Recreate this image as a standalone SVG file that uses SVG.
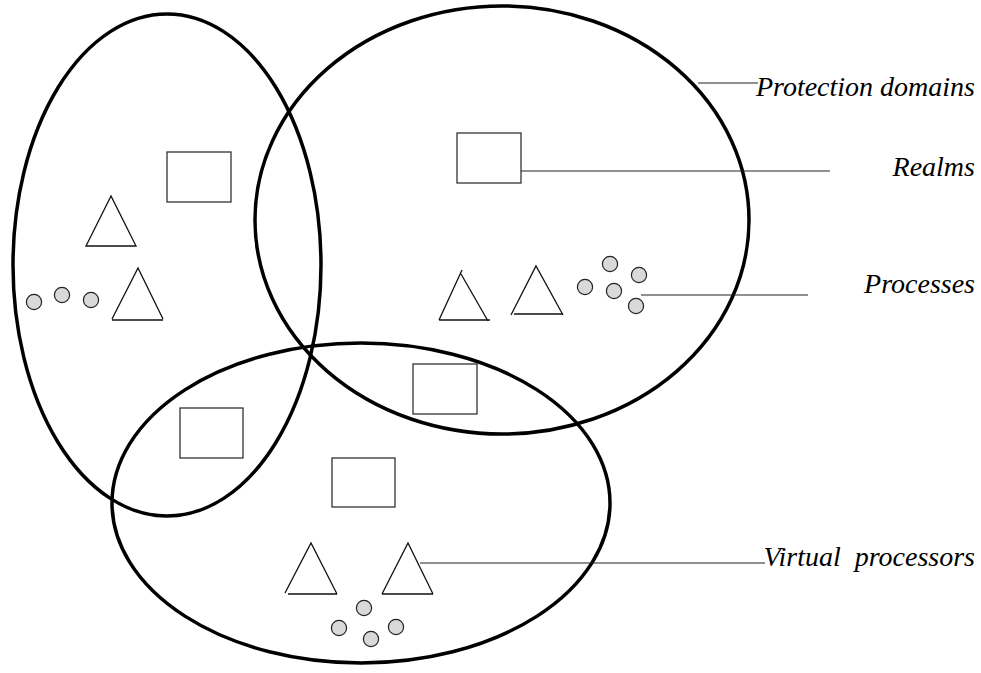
<svg xmlns="http://www.w3.org/2000/svg" width="981" height="673" viewBox="0 0 981 673">
<style>
.dom{fill:none;stroke:#000;stroke-width:3.5}
.realm{fill:#fff;stroke:#333;stroke-width:1.3}
.tri{fill:none;stroke:#111;stroke-width:1.3}
.proc{fill:#d9d9d9;stroke:#222;stroke-width:1.2}
.lead{fill:none;stroke:#222;stroke-width:1.2}
</style>
<rect width="981" height="673" fill="#fff"/>
<g id="domain-left"><ellipse class="dom" cx="167" cy="265" rx="154" ry="251"/></g>
<g id="domain-right"><ellipse class="dom" cx="502" cy="220" rx="247" ry="214"/></g>
<g id="domain-bottom"><ellipse class="dom" cx="361" cy="503" rx="249" ry="160"/></g>
<g id="realm-1"><rect class="realm" x="167" y="152" width="64" height="50"/></g>
<g id="realm-2"><rect class="realm" x="457" y="133" width="64" height="50"/></g>
<g id="realm-3"><rect class="realm" x="413" y="364" width="64" height="50"/></g>
<g id="realm-4"><rect class="realm" x="180" y="408" width="63" height="50"/></g>
<g id="realm-5"><rect class="realm" x="332" y="458" width="63" height="49"/></g>
<g id="vp-1"><polygon class="tri" points="111,196 86,246 136,246"/></g>
<g id="vp-2"><path class="tri" d="M112,319 L138,268 L163,319 M112,320 H163"/></g>
<g id="vp-3"><path class="tri" d="M439,320 L462,270 M461,274 L488,321 M439,320 H490"/></g>
<g id="vp-4"><path class="tri" d="M511,315 L536,266 L563,315 M514,314 H563"/></g>
<g id="vp-5"><path class="tri" d="M285,593 L311,543 L337,594 M288,594 H337"/></g>
<g id="vp-6"><path class="tri" d="M382,594 L408,543 L433,594 M382,594 H433"/></g>
<g id="processes">
<circle class="proc" cx="34" cy="302" r="7.6"/>
<circle class="proc" cx="62" cy="295" r="7.6"/>
<circle class="proc" cx="91" cy="300" r="7.6"/>
<circle class="proc" cx="585" cy="287" r="7.6"/>
<circle class="proc" cx="610" cy="264" r="7.6"/>
<circle class="proc" cx="639" cy="275" r="7.6"/>
<circle class="proc" cx="614" cy="291" r="7.6"/>
<circle class="proc" cx="636" cy="306" r="7.6"/>
<circle class="proc" cx="364" cy="608" r="7.6"/>
<circle class="proc" cx="339" cy="628" r="7.6"/>
<circle class="proc" cx="396" cy="627" r="7.6"/>
<circle class="proc" cx="371" cy="639" r="7.6"/>
</g>
<g id="connectors">
<line class="lead" x1="698" y1="83" x2="758" y2="83"/>
<line class="lead" x1="521" y1="171" x2="830" y2="171"/>
<line class="lead" x1="641" y1="295" x2="808" y2="295"/>
<line class="lead" x1="420" y1="563" x2="765" y2="563"/>
</g>
<g id="labels" font-family="'Liberation Serif', 'Times New Roman', serif" font-style="italic" font-size="28" fill="#000">
<text x="975" y="96" text-anchor="end">Protection domains</text>
<text x="975" y="176" text-anchor="end">Realms</text>
<text x="975" y="293" text-anchor="end">Processes</text>
<text x="975" y="566" text-anchor="end" xml:space="preserve">Virtual  processors</text>
</g>
</svg>
